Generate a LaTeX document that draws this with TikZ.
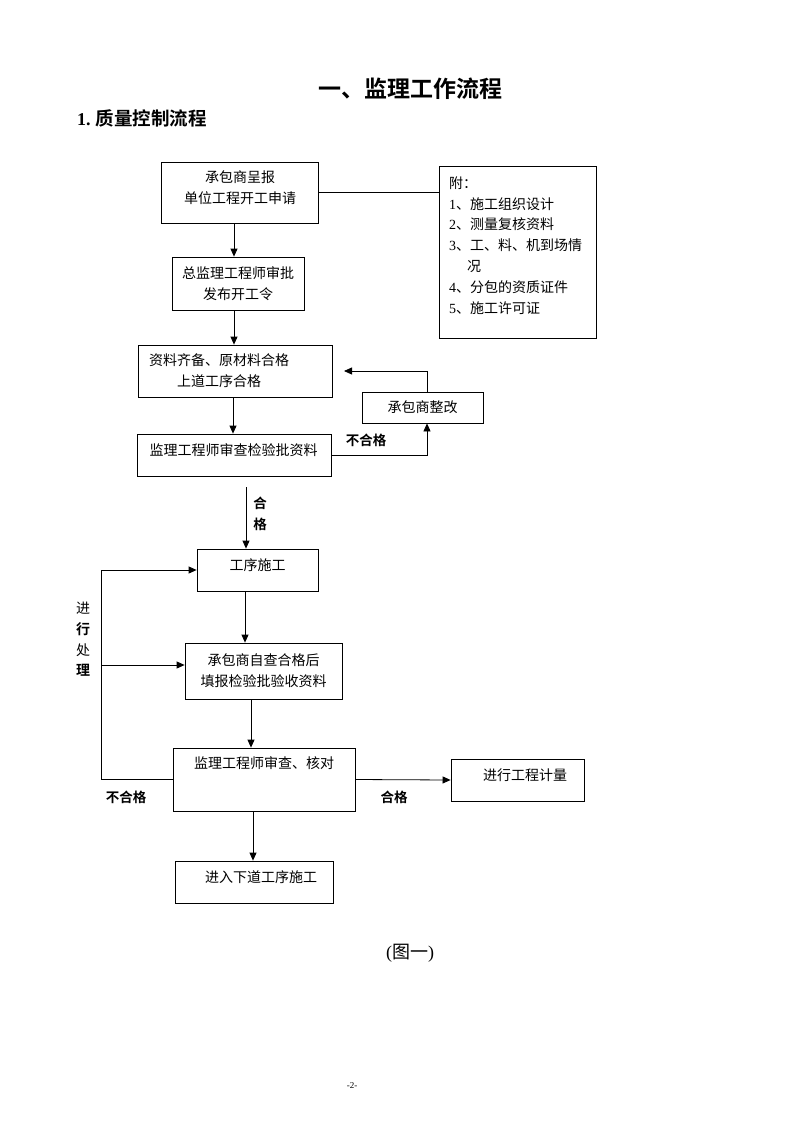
\documentclass[tikz,border=0pt]{standalone}
\usepackage{fontspec}
\usetikzlibrary{arrows.meta}
\newfontfamily\cjk[BoldFont={Noto Sans CJK SC Bold}]{Noto Sans CJK SC}
\newfontfamily\lat{Liberation Serif}
\newcommand{\nd}[1]{{\lat #1}}
\tikzset{
  boxn/.style={draw, line width=0.8pt, inner sep=0pt, align=center,
    font=\cjk\fontsize{14}{21}\selectfont},
  txt/.style={inner sep=0pt, align=center, font=\cjk\fontsize{14}{21}\selectfont},
  lbl/.style={inner sep=0pt, font=\cjk\bfseries\fontsize{13.5}{16}\selectfont},
  conn/.style={line width=0.8pt},
  arr/.style={line width=0.8pt, -{Triangle[length=8pt,width=7pt]}}
}
\begin{document}
\begin{tikzpicture}[x=1pt,y=-1pt]
\useasboundingbox[fill=white] (0,0) rectangle (800,1132);

% titles
\node[inner sep=0pt, font=\cjk\bfseries\fontsize{23}{26}\selectfont] (title) at (410,89) {一、监理工作流程};
\node[inner sep=0pt, anchor=west] (sub) at (77,118) {{\lat\bfseries\fontsize{18}{20}\selectfont 1.}\hspace{5pt}{\cjk\bfseries\fontsize{18.5}{20}\selectfont 质量控制流程}};

% boxes
\node[boxn, minimum width=157, minimum height=61] (b1) at (239.5,192.5) {};
\node[txt] (t1) at (240,187.5) {承包商呈报\\单位工程开工申请};
\node[boxn, minimum width=132, minimum height=53] (b2) at (238,283.5) {总监理工程师审批\\发布开工令};
\node[boxn, minimum width=194, minimum height=52] (b3) at (235,371) {};
\node[txt] (t3) at (219,371) {资料齐备、原材料合格\\上道工序合格};
\node[boxn, minimum width=194, minimum height=42] (b4) at (234,455) {};
\node[txt] (t4) at (233.5,450) {监理工程师审查检验批资料};
\node[boxn, minimum width=121, minimum height=31] (b5) at (422.5,407.5) {承包商整改};

\node[boxn, minimum width=157, minimum height=172] (att) at (517.5,252) {};
\node[txt, anchor=base west, align=left, font=\cjk\fontsize{14}{20.8}\selectfont] (attt) at (449,313)
  {附：\\\nd{1}、施工组织设计\\\nd{2}、测量复核资料\\\nd{3}、工、料、机到场情\\\hspace{18pt}况\\\nd{4}、分包的资质证件\\\nd{5}、施工许可证};

\node[boxn, minimum width=121, minimum height=42] (b6) at (257.5,570) {};
\node[txt] (t6) at (257.5,565) {工序施工};
\node[boxn, minimum width=157, minimum height=56] (b7) at (263.5,671) {承包商自查合格后\\填报检验批验收资料};
\node[boxn, minimum width=182, minimum height=63] (b8) at (264,779.5) {};
\node[txt] (t8) at (264,763) {监理工程师审查、核对};
\node[boxn, minimum width=133, minimum height=42] (b9) at (517.5,780) {};
\node[txt] (t9) at (525,775) {进行工程计量};
\node[boxn, minimum width=158, minimum height=42] (b10) at (254,882) {};
\node[txt] (t10) at (261,877) {进入下道工序施工};

% helper coordinates
\coordinate (xa) at (234,0);
\coordinate (xb) at (233,0);
\coordinate (xr) at (427,0);
\coordinate (rt) at (344,371);
\coordinate (c1) at (246,487);
\coordinate (xc) at (245,0);
\coordinate (xd) at (251,0);
\coordinate (xe) at (253,0);
\coordinate (lx) at (101,0);
\coordinate (lp) at (101,665);

% connectors
\draw[arr] (b1.south -| xa) -- (b2.north -| xa);
\draw[arr] (b2.south -| xa) -- (b3.north -| xa);
\draw[arr] (b3.south -| xb) -- (b4.north -| xb);
\draw[conn] (b1.east) -- (b1.east -| att.west);
\draw[arr] (b4.east) -| (b5.south -| xr);
\draw[arr] (b5.north -| xr) |- (rt);
\draw[arr] (c1) -- (b6.north -| c1);
\draw[arr] (b6.south -| xc) -- (b7.north -| xc);
\draw[arr] (b7.south -| xd) -- (b8.north -| xd);
\draw[arr] (b8.south -| xe) -- (b10.north -| xe);
\draw[arr] (b8.east) -- (b9.west);
\draw[arr] (b8.west) -- (b8.west -| lx) -- (b6.west -| lx) -- (b6.west);
\draw[arr] (lp) -- (lp -| b7.west);

% labels
\node[lbl] (l1) at (366,440) {不合格};
\node[lbl] (l2a) at (260,503) {合};
\node[lbl] (l2b) at (260,524) {格};
\node[txt] (l3a) at (83,608) {进};
\node[lbl, font=\cjk\bfseries\fontsize{14}{16}\selectfont] (l3b) at (83,629) {行};
\node[txt] (l3c) at (83,650) {处};
\node[lbl, font=\cjk\bfseries\fontsize{14}{16}\selectfont] (l3d) at (83,670) {理};
\node[lbl] (l4) at (126,797) {不合格};
\node[lbl] (l5) at (394,797) {合格};

\node[inner sep=0pt] (fig) at (410,953) {{\lat\fontsize{18}{20}\selectfont(}{\cjk\fontsize{18}{20}\selectfont 图一}{\lat\fontsize{18}{20}\selectfont)}};
\node[inner sep=0pt, font=\lat\fontsize{9}{10}\selectfont] (pg) at (352,1086) {-2-};
\end{tikzpicture}
\end{document}
